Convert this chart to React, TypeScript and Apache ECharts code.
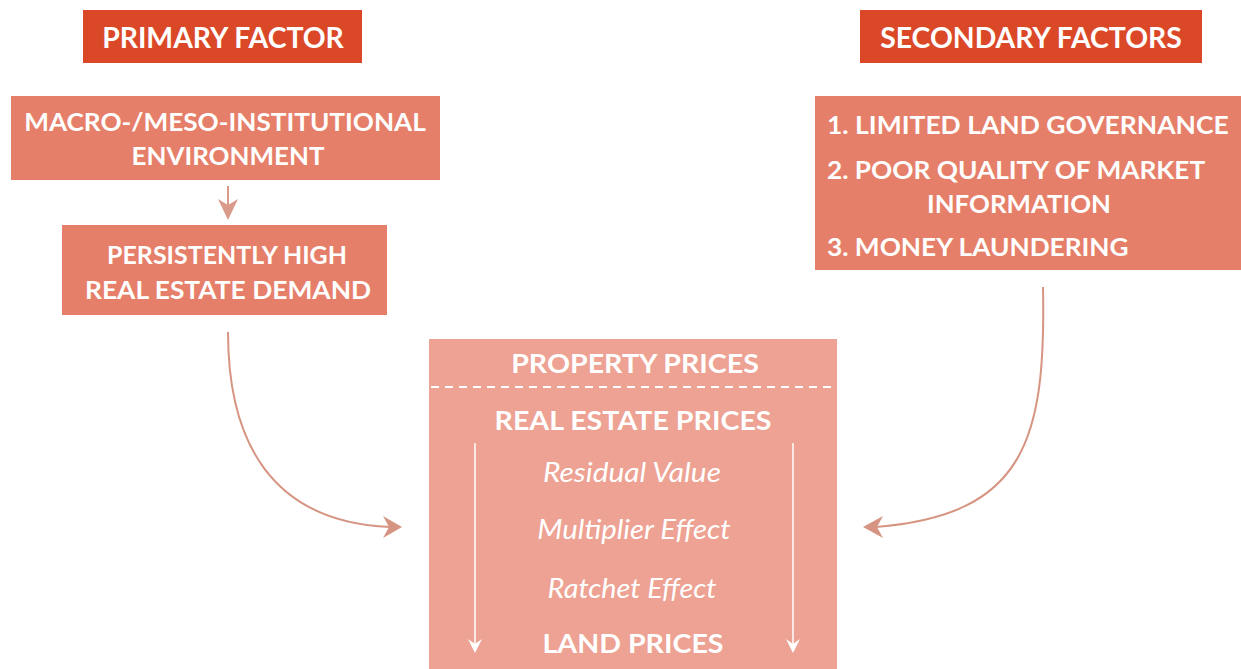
import React, { useEffect, useRef } from "react";
import * as echarts from "echarts";

const primaryTitle = "PRIMARY FACTOR";
const secondaryTitle = "SECONDARY FACTORS";
const primaryChainTop = ["MACRO-/MESO-INSTITUTIONAL", "ENVIRONMENT"];
const primaryChainBottom = ["PERSISTENTLY HIGH", "REAL ESTATE DEMAND"];
const secondaryFactors = ["1. LIMITED LAND GOVERNANCE", "2. POOR QUALITY OF MARKET", "INFORMATION", "3. MONEY LAUNDERING"];
const priceLevels = ["PROPERTY PRICES", "REAL ESTATE PRICES"];
const effects = ["Residual Value", "Multiplier Effect", "Ratchet Effect"];
const bottomLevel = "LAND PRICES";

const DARK = "#DB4828";
const MID = "#E67F69";
const LIGHT = "#EDA293";
const ARROW = "#D69482";
const FONT = "Lato";

let ctx: CanvasRenderingContext2D | null = null;
function measure(text: string, size: number, weight: string | number, style: string) {
  if (!ctx) ctx = document.createElement("canvas").getContext("2d");
  ctx!.font = `${style} ${weight} ${size}px ${FONT}`;
  return ctx!.measureText(text).width;
}

function label(
  text: string,
  x: number,
  y: number,
  width: number,
  size: number,
  align: "center" | "left" = "center",
  weight: string | number = "bold",
  fontStyle = "normal"
) {
  const w = measure(text, size, weight, fontStyle);
  return {
    type: "text",
    x,
    y,
    scaleX: width / w,
    z: 10,
    style: {
      text,
      fill: "#ffffff",
      fontSize: size,
      fontWeight: weight,
      fontStyle,
      fontFamily: FONT,
      align,
      verticalAlign: "middle",
    },
  };
}

function rect(x: number, y: number, w: number, h: number, fill: string) {
  return { type: "rect", shape: { x, y, width: w, height: h }, style: { fill }, z: 1 };
}

export default function App() {
  const ref = useRef<HTMLDivElement>(null);
  useEffect(() => {
    if (!ref.current) return;
    const chart = echarts.init(ref.current, null, { renderer: "svg" });
    const g: any[] = [];
    // headers
    g.push(rect(83, 10, 279, 53, DARK));
    g.push(label(primaryTitle, 223, 37, 243, 29));
    g.push(rect(860, 10, 342, 53, DARK));
    g.push(label(secondaryTitle, 1031, 37, 303, 29));
    // primary chain
    g.push(rect(11, 96, 429, 84, MID));
    g.push(label(primaryChainTop[0], 225, 121, 402, 25));
    g.push(label(primaryChainTop[1], 228, 155, 193, 25));
    g.push(rect(62, 225, 325, 90, MID));
    g.push(label(primaryChainBottom[0], 227, 254, 241, 25));
    g.push(label(primaryChainBottom[1], 228, 289, 287, 25));
    // small arrow
    g.push({ type: "line", shape: { x1: 228, y1: 186, x2: 228, y2: 206 }, style: { stroke: "#D99A8B", lineWidth: 2 } });
    g.push({ type: "polygon", shape: { points: [[228, 220], [218, 199], [228, 205], [238, 199]] }, style: { fill: "#D99A8B" } });
    // secondary factors
    g.push(rect(815, 96, 426, 174, MID));
    g.push(label(secondaryFactors[0], 827, 124, 402, 25, "left"));
    g.push(label(secondaryFactors[1], 827, 169, 380, 25, "left"));
    g.push(label(secondaryFactors[2], 1019, 203, 184, 25));
    g.push(label(secondaryFactors[3], 827, 246, 303, 25, "left"));
    // center box
    g.push(rect(429, 339, 408, 340, LIGHT));
    g.push(label(priceLevels[0], 635, 363, 249, 26));
    g.push({
      type: "line",
      z: 5,
      shape: { x1: 431, y1: 387, x2: 837, y2: 387 },
      style: { stroke: "#ffffff", lineWidth: 2, lineDash: [8, 6] },
    });
    g.push(label(priceLevels[1], 633, 420, 278, 26));
    const effY = [472, 528, 587];
    const effW = [179, 194, 169];
    const effX = [632, 634, 632];
    effects.forEach((t, i) => g.push(label(t, effX[i], effY[i], effW[i], 27, "center", "normal", "italic")));
    g.push(label(bottomLevel, 633, 643, 181, 26));
    [475, 793].forEach((x) => {
      g.push({ type: "line", z: 5, shape: { x1: x, y1: 443, x2: x, y2: 646 }, style: { stroke: "#ffffff", lineWidth: 1.5 } });
      g.push({ type: "polygon", z: 5, shape: { points: [[x, 653], [x - 7, 639], [x, 644], [x + 7, 639]] }, style: { fill: "#ffffff" } });
    });
    // curved arrows
    g.push({
      type: "bezierCurve",
      shape: { x1: 228, y1: 332, cpx1: 228, cpy1: 440, cpx2: 270, cpy2: 522, x2: 390, y2: 527 },
      style: { stroke: ARROW, lineWidth: 2, fill: "none" },
    });
    g.push({ type: "polygon", shape: { points: [[402, 527], [383, 516], [389, 527], [383, 538]] }, style: { fill: ARROW } });
    g.push({
      type: "bezierCurve",
      shape: { x1: 1043, y1: 287, cpx1: 1046, cpy1: 440, cpx2: 1025, cpy2: 515, x2: 876, y2: 527 },
      style: { stroke: ARROW, lineWidth: 2, fill: "none" },
    });
    g.push({ type: "polygon", shape: { points: [[863, 527], [883, 516], [877, 527], [883, 538]] }, style: { fill: ARROW } });

    chart.setOption({ animation: false, graphic: g });
    return () => chart.dispose();
  }, []);
  return (
    <div
      ref={ref}
      style={{ position: "fixed", left: 0, top: 0, width: 1241, height: 669, background: "#ffffff" }}
    />
  );
}
